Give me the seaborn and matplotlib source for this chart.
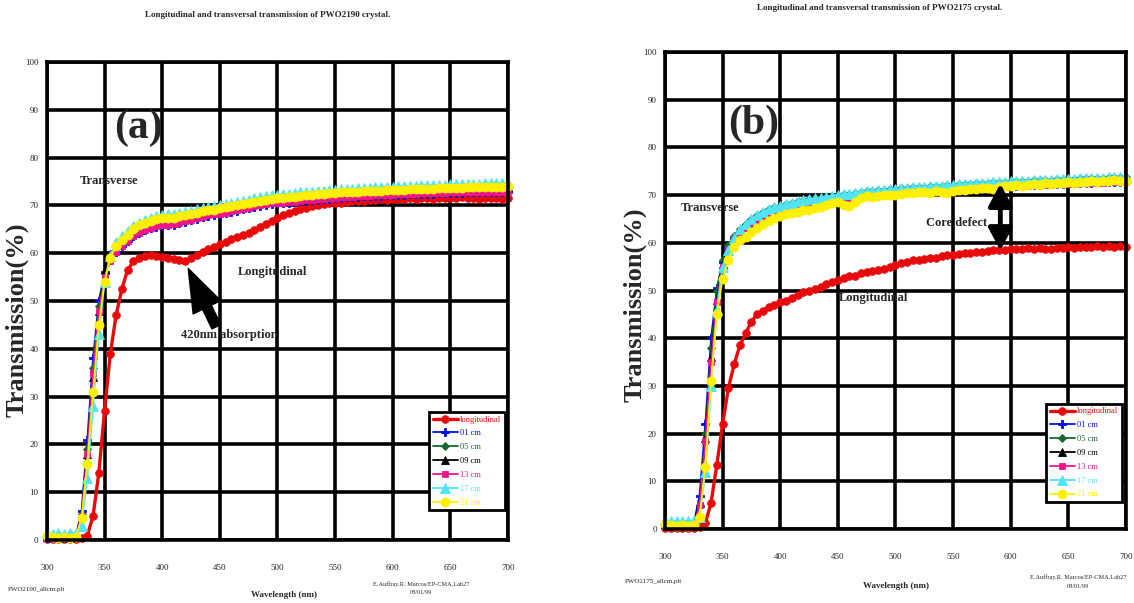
import matplotlib
matplotlib.use("Agg")
import matplotlib.pyplot as plt
from matplotlib.ticker import MultipleLocator
import seaborn as sns

# wavelength grid of the scans [nm]
wavelength = list(range(300, 705, 5))

labels = ['longitudinal', '01 cm', '05 cm', '09 cm', '13 cm', '17 cm', '21 cm']

# ---------------- PWO2190 (panel a) ----------------
a_long = [0.3, 0.3, 0.3, 0.3, 0.3, 0.3, 0.4, 0.9, 5.0, 14.0,
          27.0, 39.0, 47.0, 52.5, 56.5, 58.3, 59.0, 59.4, 59.6, 59.5,
          59.3, 59.0, 58.7, 58.5, 58.3, 58.9, 59.7, 60.3, 60.8, 61.3,
          61.9, 62.4, 62.9, 63.3, 63.8, 64.2, 64.8, 65.5, 66.2, 66.8,
          67.4, 67.9, 68.4, 68.9, 69.2, 69.5, 69.8, 70.0, 70.2, 70.4,
          70.5, 70.6, 70.8, 70.9, 71.0, 71.0, 71.2, 71.1, 71.3, 71.2,
          71.4, 71.3, 71.4, 71.5, 71.4, 71.6, 71.5, 71.4, 71.6, 71.5,
          71.6, 71.5, 71.7, 71.5, 71.6, 71.4, 71.6, 71.5, 71.6, 71.4,
          71.5]
a_01 = [0.5, 0.4, 0.4, 0.5, 0.4, 0.8, 6.0, 21.0, 38.0, 50.0,
        56.0, 58.6, 60.3, 61.6, 62.6, 63.5, 64.2, 64.8, 65.2, 65.5,
        65.7, 65.9, 66.0, 66.3, 66.6, 66.9, 67.2, 67.5, 67.8, 68.0,
        68.2, 68.4, 68.7, 68.9, 69.2, 69.4, 69.7, 69.9, 70.1, 70.3,
        70.4, 70.5, 70.6, 70.7, 70.9, 71.0, 71.1, 71.2, 71.3, 71.4,
        71.5, 71.6, 71.7, 71.7, 71.8, 71.9, 71.9, 72.0, 72.0, 72.1,
        72.1, 72.2, 72.2, 72.3, 72.3, 72.4, 72.4, 72.4, 72.5, 72.5,
        72.6, 72.6, 72.6, 72.7, 72.7, 72.7, 72.8, 72.8, 72.8, 72.8,
        72.9]
a_05 = [0.6, 0.5, 0.5, 0.5, 0.5, 0.7, 5.5, 19.0, 36.0, 49.0,
        56.0, 59.5, 61.6, 62.8, 63.7, 64.7, 65.4, 65.9, 66.3, 66.6,
        66.8, 66.9, 67.0, 67.3, 67.6, 67.8, 68.1, 68.4, 68.6, 68.8,
        69.0, 69.2, 69.4, 69.6, 69.9, 70.1, 70.4, 70.6, 70.8, 71.0,
        71.1, 71.2, 71.3, 71.4, 71.6, 71.7, 71.8, 71.9, 72.0, 72.1,
        72.2, 72.3, 72.4, 72.4, 72.5, 72.6, 72.6, 72.7, 72.7, 72.8,
        72.8, 72.9, 72.9, 73.0, 73.0, 73.1, 73.1, 73.1, 73.2, 73.2,
        73.3, 73.3, 73.3, 73.4, 73.4, 73.4, 73.5, 73.5, 73.5, 73.5,
        73.6]
a_09 = [0.6, 0.5, 0.4, 0.5, 0.5, 0.6, 5.0, 18.0, 34.0, 48.0,
        56.5, 59.8, 61.8, 63.0, 63.9, 64.9, 65.6, 66.1, 66.5, 66.8,
        67.0, 67.1, 67.2, 67.5, 67.8, 68.0, 68.3, 68.6, 68.8, 69.0,
        69.2, 69.4, 69.6, 69.8, 70.1, 70.3, 70.6, 70.8, 71.0, 71.2,
        71.3, 71.4, 71.5, 71.6, 71.8, 71.9, 72.0, 72.1, 72.2, 72.3,
        72.4, 72.5, 72.6, 72.6, 72.7, 72.8, 72.8, 72.9, 72.9, 73.0,
        73.0, 73.1, 73.1, 73.2, 73.2, 73.3, 73.3, 73.3, 73.4, 73.4,
        73.5, 73.5, 73.5, 73.6, 73.6, 73.6, 73.7, 73.7, 73.7, 73.7,
        73.8]
a_13 = [0.4, 0.3, 0.3, 0.4, 0.3, 0.5, 5.0, 18.0, 35.0, 48.0,
        55.0, 58.3, 60.2, 61.5, 62.6, 63.6, 64.3, 64.9, 65.3, 65.6,
        65.8, 66.0, 66.1, 66.4, 66.7, 67.0, 67.3, 67.6, 67.9, 68.1,
        68.3, 68.5, 68.8, 69.0, 69.3, 69.5, 69.8, 70.0, 70.2, 70.4,
        70.5, 70.6, 70.7, 70.8, 71.0, 71.1, 71.2, 71.3, 71.4, 71.5,
        71.6, 71.7, 71.8, 71.8, 71.9, 72.0, 72.0, 72.1, 72.1, 72.2,
        72.2, 72.3, 72.3, 72.4, 72.4, 72.5, 72.5, 72.5, 72.6, 72.6,
        72.7, 72.7, 72.7, 72.8, 72.8, 72.8, 72.9, 72.9, 72.9, 72.9,
        73.0]
a_17 = [1.5, 1.3, 1.4, 1.3, 1.4, 1.5, 3.0, 13.0, 28.0, 43.0,
        54.0, 59.5, 62.3, 63.6, 64.6, 65.6, 66.4, 66.9, 67.4, 67.8,
        67.9, 68.1, 68.2, 68.5, 68.7, 68.9, 69.2, 69.5, 69.7, 69.9,
        70.1, 70.3, 70.5, 70.7, 71.0, 71.2, 71.5, 71.7, 71.9, 72.1,
        72.2, 72.3, 72.4, 72.5, 72.7, 72.8, 72.9, 73.0, 73.1, 73.2,
        73.3, 73.4, 73.5, 73.5, 73.6, 73.7, 73.7, 73.8, 73.8, 73.9,
        73.9, 74.0, 74.0, 74.1, 74.1, 74.2, 74.2, 74.2, 74.3, 74.3,
        74.4, 74.4, 74.4, 74.5, 74.5, 74.5, 74.6, 74.6, 74.6, 74.6,
        74.7]
a_21 = [0.8, 0.6, 0.5, 0.6, 0.5, 0.7, 4.5, 16.0, 31.0, 45.0,
        54.0, 59.0, 61.5, 62.8, 63.8, 65.0, 65.8, 66.3, 66.8, 67.2,
        67.3, 67.4, 67.4, 67.8, 68.0, 68.1, 68.5, 68.8, 69.0, 69.1,
        69.4, 69.6, 69.8, 70.0, 70.3, 70.5, 70.8, 71.0, 71.2, 71.4,
        71.5, 71.6, 71.7, 71.8, 72.0, 72.1, 72.2, 72.3, 72.4, 72.5,
        72.6, 72.7, 72.8, 72.8, 72.9, 73.0, 73.0, 73.1, 73.1, 73.2,
        73.2, 73.3, 73.3, 73.4, 73.4, 73.5, 73.5, 73.5, 73.6, 73.6,
        73.7, 73.7, 73.7, 73.8, 73.8, 73.8, 73.9, 73.9, 73.9, 73.9,
        74.0]

# ---------------- PWO2175 (panel b) ----------------
b_long = [0.3, 0.3, 0.3, 0.3, 0.3, 0.3, 0.5, 1.2, 5.5, 13.5,
          22.0, 29.5, 34.5, 38.5, 41.0, 43.5, 45.0, 45.8, 46.5, 47.0,
          47.5, 47.9, 48.5, 49.1, 49.6, 50.0, 50.4, 50.8, 51.3, 51.8,
          52.2, 52.6, 53.1, 53.0, 53.6, 53.9, 54.1, 54.3, 54.6, 55.0,
          55.4, 55.7, 56.0, 56.3, 56.4, 56.6, 56.8, 56.9, 57.2, 57.4,
          57.5, 57.7, 57.8, 57.9, 58.0, 58.1, 58.2, 58.4, 58.5, 58.6,
          58.7, 58.8, 58.7, 58.9, 58.8, 58.9, 58.7, 58.8, 59.0, 58.9,
          59.1, 59.0, 59.2, 59.1, 59.2, 59.3, 59.1, 59.3, 59.2, 59.3,
          59.2]
b_01 = [1.0, 0.8, 0.8, 0.9, 0.8, 1.2, 7.0, 22.0, 40.0, 50.5,
        56.0, 59.0, 61.0, 62.3, 63.3, 64.1, 64.8, 65.5, 66.0, 66.5,
        66.9, 67.2, 67.5, 67.8, 68.0, 68.2, 68.4, 68.6, 68.8, 69.0,
        69.2, 69.3, 69.4, 69.6, 69.8, 69.9, 70.0, 70.1, 70.2, 70.3,
        70.4, 70.5, 70.6, 70.7, 70.8, 70.9, 71.0, 71.1, 71.1, 71.2,
        71.3, 71.4, 71.4, 71.5, 71.6, 71.6, 71.7, 71.8, 71.8, 71.9,
        72.0, 72.0, 72.1, 72.1, 72.2, 72.2, 72.3, 72.3, 72.4, 72.4,
        72.5, 72.5, 72.6, 72.6, 72.6, 72.7, 72.7, 72.8, 72.8, 72.8,
        72.9]
b_05 = [1.2, 1.0, 1.1, 1.0, 1.1, 1.3, 5.0, 20.0, 38.0, 50.0,
        56.5, 59.5, 61.5, 63.0, 64.0, 65.0, 65.8, 66.5, 67.0, 67.5,
        67.8, 68.1, 68.4, 68.7, 68.9, 69.1, 69.3, 69.5, 69.7, 69.9,
        70.1, 70.2, 70.3, 70.5, 70.7, 70.8, 70.9, 71.0, 71.1, 71.2,
        71.3, 71.4, 71.5, 71.6, 71.7, 71.8, 71.9, 72.0, 72.0, 72.1,
        72.2, 72.3, 72.3, 72.4, 72.5, 72.5, 72.6, 72.7, 72.7, 72.8,
        72.9, 72.9, 73.0, 73.0, 73.1, 73.1, 73.2, 73.2, 73.3, 73.3,
        73.4, 73.4, 73.5, 73.5, 73.5, 73.6, 73.6, 73.7, 73.7, 73.7,
        73.8]
b_09 = [1.0, 0.9, 0.8, 0.9, 0.8, 1.0, 5.5, 19.0, 36.0, 48.0,
        55.5, 58.8, 61.0, 62.4, 63.5, 64.4, 65.2, 65.9, 66.4, 66.9,
        67.3, 67.6, 67.9, 68.2, 68.4, 68.6, 68.8, 69.0, 69.2, 69.4,
        69.6, 69.7, 69.8, 70.0, 70.2, 70.3, 70.4, 70.5, 70.6, 70.7,
        70.8, 70.9, 71.0, 71.1, 71.2, 71.3, 71.4, 71.5, 71.5, 71.6,
        71.7, 71.8, 71.8, 71.9, 72.0, 72.0, 72.1, 72.2, 72.2, 72.3,
        72.4, 72.4, 72.5, 72.5, 72.6, 72.6, 72.7, 72.7, 72.8, 72.8,
        72.9, 72.9, 73.0, 73.0, 73.0, 73.1, 73.1, 73.2, 73.2, 73.2,
        73.3]
b_13 = [0.9, 0.8, 0.7, 0.8, 0.7, 0.9, 5.0, 18.5, 35.0, 47.5,
        55.0, 58.5, 60.8, 62.2, 63.2, 64.0, 64.7, 65.4, 65.9, 66.4,
        66.8, 67.1, 67.4, 67.7, 67.9, 68.1, 68.3, 68.5, 68.7, 68.9,
        69.1, 69.2, 69.3, 69.5, 69.7, 69.8, 69.9, 70.0, 70.1, 70.2,
        70.3, 70.4, 70.5, 70.6, 70.7, 70.8, 70.9, 71.0, 71.0, 71.1,
        71.2, 71.3, 71.3, 71.4, 71.5, 71.5, 71.6, 71.7, 71.7, 71.8,
        71.9, 71.9, 72.0, 72.0, 72.1, 72.1, 72.2, 72.2, 72.3, 72.3,
        72.4, 72.4, 72.5, 72.5, 72.5, 72.6, 72.6, 72.7, 72.7, 72.7,
        72.8]
b_17 = [1.8, 1.6, 1.7, 1.6, 1.7, 1.8, 2.5, 12.0, 30.0, 46.0,
        55.0, 58.5, 61.0, 62.8, 64.0, 65.0, 65.8, 66.5, 67.0, 67.5,
        67.8, 68.1, 68.4, 68.7, 68.9, 69.1, 69.3, 69.5, 69.7, 69.9,
        70.1, 70.2, 70.3, 70.5, 70.7, 70.8, 70.9, 71.0, 71.1, 71.2,
        71.3, 71.4, 71.5, 71.6, 71.7, 71.8, 71.9, 72.0, 72.0, 72.1,
        72.2, 72.3, 72.3, 72.4, 72.5, 72.5, 72.6, 72.7, 72.7, 72.8,
        72.9, 72.9, 73.0, 73.0, 73.1, 73.1, 73.2, 73.2, 73.3, 73.3,
        73.4, 73.4, 73.5, 73.5, 73.5, 73.6, 73.6, 73.7, 73.7, 73.7,
        73.8]
b_21 = [1.0, 0.8, 0.7, 0.8, 0.7, 0.9, 2.5, 13.0, 31.0, 45.0,
        52.5, 56.5, 59.2, 60.5, 61.3, 62.3, 63.2, 64.0, 64.6, 65.2,
        65.7, 66.0, 66.3, 66.5, 66.8, 66.9, 67.3, 67.6, 68.0, 68.4,
        68.6, 68.0, 67.7, 68.6, 69.5, 69.8, 69.6, 69.9, 70.0, 70.1,
        70.0, 70.3, 70.5, 70.4, 70.6, 70.7, 70.4, 70.8, 70.6, 70.5,
        70.9, 71.1, 71.0, 71.3, 71.2, 71.5, 71.4, 71.2, 71.7, 71.9,
        72.0, 72.1, 71.9, 72.2, 72.3, 72.1, 72.5, 72.4, 72.6, 72.5,
        72.7, 72.6, 72.8, 72.7, 72.9, 72.8, 73.0, 72.9, 73.1, 73.0,
        73.0]

panel_a = [a_long, a_01, a_05, a_09, a_13, a_17, a_21]
panel_b = [b_long, b_01, b_05, b_09, b_13, b_17, b_21]

# styles
colors = ['#e60a0a', '#0010e6', '#14692c', '#000000', '#f0148c', '#50e4f8', '#fff000']
markers = ['o', 'P', 'D', '^', 's', '^', 'o']
msizes = [5.5, 6.0, 4.5, 5.5, 4.0, 7.0, 6.5]
lwidths = [2.4, 1.3, 1.3, 1.3, 1.3, 1.3, 1.3]

sns.set_style("white")
plt.rcParams['font.family'] = ['Liberation Serif', 'DejaVu Serif']

fig = plt.figure(figsize=(11.34, 6.03), dpi=100)
ax_a = fig.add_axes([0.0414, 0.1045, 0.4065, 0.7927])
ax_b = fig.add_axes([0.5864, 0.1227, 0.4065, 0.7910])


def draw_panel(ax, series, leg_anchor):
    handles = []
    for vals, lab, c, m, ms, lw in zip(series, labels, colors, markers, msizes, lwidths):
        sns.lineplot(x=wavelength, y=vals, ax=ax, color=c, marker=m, markersize=ms,
                     markeredgecolor=c, markeredgewidth=0.6, linewidth=lw,
                     errorbar=None, legend=False)
        line = ax.lines[-1]
        line.set_clip_on(False)
        line.set_label(lab)
        handles.append(line)
    ax.set_xlim(300, 700)
    ax.set_ylim(0, 100)
    ax.xaxis.set_major_locator(MultipleLocator(50))
    ax.xaxis.set_minor_locator(MultipleLocator(10))
    ax.yaxis.set_major_locator(MultipleLocator(10))
    ax.set_axisbelow(True)
    ax.grid(True, which='major', color='black', linewidth=2.6)
    for sp in ax.spines.values():
        sp.set_color('black')
        sp.set_linewidth(2.6)
    ax.tick_params(axis='x', which='major', direction='out', length=5, width=2.5,
                   labelsize=6.5, pad=12, color='black')
    ax.tick_params(axis='x', which='minor', direction='out', length=3, width=2, color='black')
    ax.tick_params(axis='y', which='major', direction='out', length=3, width=2,
                   labelsize=6.5, pad=3, color='black')
    ax.set_xlabel("Wavelength (nm)", fontsize=6.5, fontweight='bold')
    ax.set_ylabel("Transmission(%)", fontsize=19, fontweight='bold')
    leg = ax.legend(handles=handles, loc='lower right', bbox_to_anchor=leg_anchor,
                    borderaxespad=0, fontsize=6, labelcolor=colors, handlelength=3,
                    labelspacing=0.7, handletextpad=0.3, fancybox=False,
                    framealpha=1, edgecolor='black', numpoints=1)
    leg.get_frame().set_linewidth(2)


draw_panel(ax_a, panel_a, (0.993, 0.063))
draw_panel(ax_b, panel_b, (0.991, 0.057))

ax_a.xaxis.set_label_coords(0.514, -0.107)
ax_a.yaxis.set_label_coords(-0.040, 0.46)
ax_b.xaxis.set_label_coords(0.501, -0.111)
ax_b.yaxis.set_label_coords(-0.040, 0.47)

# panel (a) annotations
ax_a.text(379, 86.2, "(a)", fontsize=30, fontweight='bold', ha='center', va='center')
ax_a.text(354, 75.0, "Transverse", fontsize=9, fontweight='bold', ha='center', va='center')
ax_a.text(496, 56.1, "Longitudinal", fontsize=9, fontweight='bold', ha='center', va='center')
ax_a.text(458.5, 42.9, "420nm absorption", fontsize=9, fontweight='bold', ha='center', va='center')
ax_a.annotate('', xy=(422.6, 56.8), xytext=(447, 44.6),
              arrowprops=dict(arrowstyle='simple,head_length=3.1,head_width=2.2,tail_width=0.7',
                              color='black', shrinkA=0, shrinkB=0))

# panel (b) annotations
ax_b.text(377, 84.9, "(b)", fontsize=30, fontweight='bold', ha='center', va='center')
ax_b.text(339, 67.3, "Transverse", fontsize=9, fontweight='bold', ha='center', va='center')
ax_b.text(481, 48.4, "Longitudinal", fontsize=9, fontweight='bold', ha='center', va='center')
ax_b.text(553, 64.2, "Core defect", fontsize=9, fontweight='bold', ha='center', va='center')
ax_b.annotate('', xy=(591, 72.4), xytext=(591, 58.4),
              arrowprops=dict(arrowstyle='<|-|>,head_length=0.45,head_width=0.24',
                              mutation_scale=30, color='black', lw=3.5,
                              shrinkA=0, shrinkB=0))

# titles and footers
fig.text(268 / 1134, 1 - 15 / 603, "Longitudinal and transversal transmission of PWO2190 crystal.",
         fontsize=6.5, fontweight='bold', ha='center', va='center')
fig.text(880 / 1134, 1 - 8 / 603, "Longitudinal and transversal transmission of PWO2175 crystal.",
         fontsize=6.5, fontweight='bold', ha='center', va='center')
fig.text(8 / 1134, 1 - 589 / 603, "PWO2190_allcm.plt", fontsize=5, ha='left', va='center')
fig.text(421 / 1134, 1 - 584 / 603, "E.Auffray,R. Marcos/EP-CMA,Lab27", fontsize=4.5, ha='center', va='center')
fig.text(421 / 1134, 1 - 593 / 603, "08/01/99", fontsize=4.5, ha='center', va='center')
fig.text(625 / 1134, 1 - 582 / 603, "PWO2175_allcm.plt", fontsize=5, ha='left', va='center')
fig.text(1078 / 1134, 1 - 577 / 603, "E.Auffray,R. Marcos/EP-CMA,Lab27", fontsize=4.5, ha='center', va='center')
fig.text(1078 / 1134, 1 - 586 / 603, "08/01/99", fontsize=4.5, ha='center', va='center')

fig.savefig("out.png", dpi=100)
